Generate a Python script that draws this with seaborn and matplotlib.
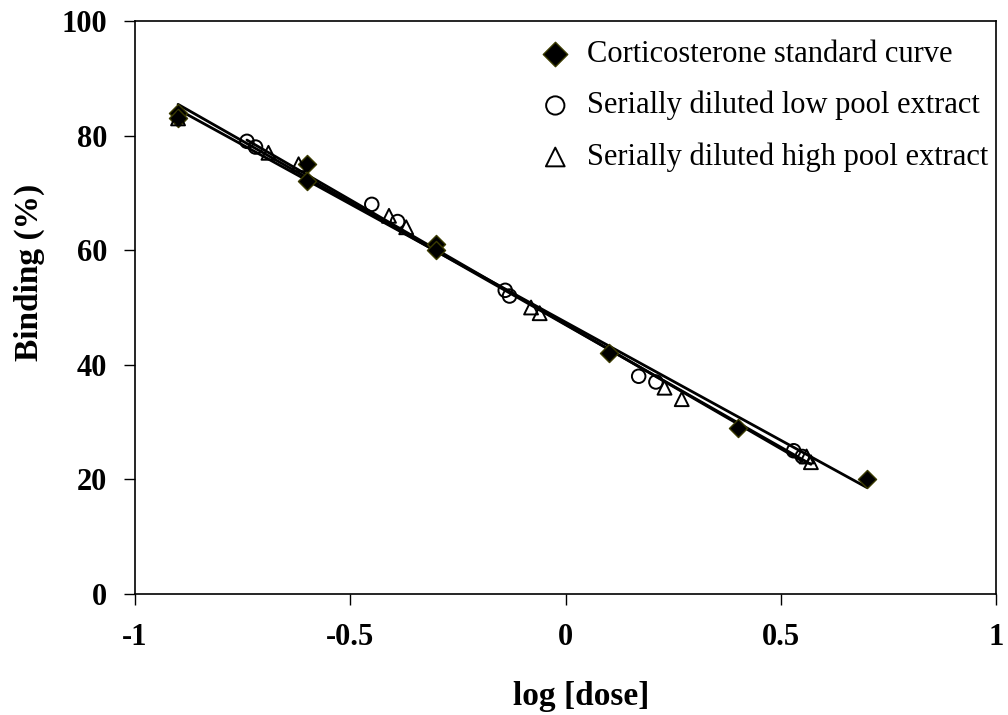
import numpy as np
import pandas as pd
import matplotlib
matplotlib.use("Agg")
import matplotlib.pyplot as plt
import seaborn as sns

# Corticosterone standard curve
std_x = [-0.9, -0.9, -0.6, -0.6, -0.3, -0.3, 0.1, 0.4, 0.7]
std_y = [84, 83, 75, 72, 61, 60, 42, 29, 20]

# Serially diluted low pool extract
low_x = [-0.74, -0.72, -0.45, -0.39, -0.14, -0.13, 0.17, 0.21, 0.53, 0.55]
low_y = [79, 78, 68, 65, 53, 52, 38, 37, 25, 24]

# Serially diluted high pool extract
high_x = [-0.9, -0.69, -0.62, -0.41, -0.37, -0.08, -0.06, 0.23, 0.27, 0.56, 0.57]
high_y = [83, 77, 75, 66, 64, 50, 49, 36, 34, 24, 23]

labels = ["Corticosterone standard curve",
          "Serially diluted low pool extract",
          "Serially diluted high pool extract"]

sns.set_theme(style="white")
plt.rcParams["font.family"] = ["Liberation Serif", "DejaVu Serif"]
plt.rcParams.update({
    "text.color": "black",
    "axes.labelcolor": "black",
    "xtick.color": "black",
    "ytick.color": "black",
})

W, H = 1008, 715
fig = plt.figure(figsize=(W / 100, H / 100), dpi=100)
ax = fig.add_axes([135 / W, 1 - 594 / H, (996 - 135) / W, (594 - 21) / H])

series = [
    (std_x, std_y, dict(marker="D", s=85, color="black", edgecolor="#3a3a00", linewidth=1.0)),
    (low_x, low_y, dict(marker="o", s=95, facecolor="none", edgecolor="black", linewidth=1.4)),
    (high_x, high_y, dict(marker="^", s=100, facecolor="none", edgecolor="black", linewidth=1.4)),
]

handles = []
for (xs, ys, kw), lab in zip(series, labels):
    df = pd.DataFrame({"x": xs, "y": ys})
    sns.regplot(data=df, x="x", y="y", ax=ax, ci=None, truncate=True, scatter=False,
                line_kws=dict(color="black", linewidth=2.0, zorder=2))
    h = ax.scatter(df["x"], df["y"], zorder=3, label=lab, **kw)
    handles.append(h)

ax.set_xlim(-1, 1)
ax.set_ylim(0, 100)
ax.set_xticks([-1, -0.5, 0, 0.5, 1])
ax.set_xticklabels(["-1", "-0.5", "0", "0.5", "1"])
ax.set_yticks([0, 20, 40, 60, 80, 100])

for sp in ax.spines.values():
    sp.set_visible(True)
    sp.set_color("black")
    sp.set_linewidth(1.2)

ax.tick_params(axis="both", which="both", direction="out", length=8, width=1,
               color="black", labelcolor="black", labelsize=22,
               bottom=True, left=True, top=False, right=False)
ax.tick_params(axis="x", pad=13)
ax.tick_params(axis="y", pad=12)
for t in ax.get_xticklabels() + ax.get_yticklabels():
    t.set_fontweight("bold")

ax.set_xlabel("log [dose]", fontsize=24, fontweight="bold", color="black")
ax.set_ylabel("Binding (%)", fontsize=24, fontweight="bold", color="black")
ax.xaxis.set_label_coords(0.518, -0.152)
ax.yaxis.set_label_coords(-0.105, 0.562)

leg = ax.legend(handles=handles, labels=labels, loc="upper left",
                bbox_to_anchor=(540 / W, 1 - 40 / H), bbox_transform=fig.transFigure,
                frameon=False, fontsize=22, handlelength=1.0, handletextpad=0.55,
                labelspacing=0.72, borderaxespad=0, borderpad=0, scatterpoints=1,
                markerscale=1.35, labelcolor="black")

fig.savefig("out.png", dpi=100, facecolor="white")
